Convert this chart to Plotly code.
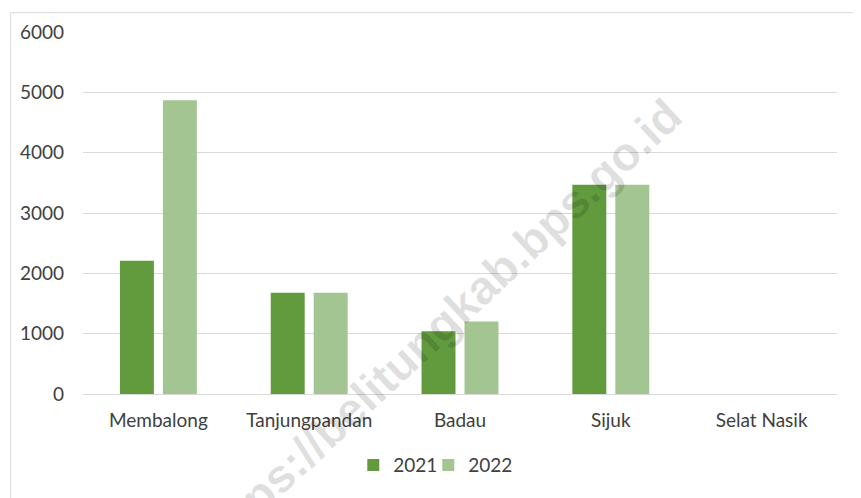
import plotly.graph_objects as go

# chart data
districts = ["Membalong", "Tanjungpandan", "Badau", "Sijuk", "Selat Nasik"]
values_2021 = [2210, 1680, 1040, 3470, 0]
values_2022 = [4870, 1680, 1200, 3470, 0]
y_ticks = [0, 1000, 2000, 3000, 4000, 5000, 6000]

TEXT = "#404040"
GRID = "#d9d9d9"
FONT = "Lato, 'Open Sans', sans-serif"

# page body adds 8px around the figure
W, H = 853, 490
ML, MR, MT, MB = 73, 24, 20, 104
PW, PH = W - ML - MR, H - MT - MB


def px_x(sx):
    return (sx - 8 - ML) / PW


def px_y(sy):
    return (H - MB - (sy - 8)) / PH


fig = go.Figure()
fig.add_trace(go.Bar(x=districts, y=values_2021, name="2021",
                     marker=dict(color="#629A3E", line=dict(width=0))))
fig.add_trace(go.Bar(x=districts, y=values_2022, name="2022",
                     marker=dict(color="#A3C592", line=dict(width=0))))
# blank legend slot so the last entry is not clipped (scatter, so it takes no bar slot)
fig.add_trace(go.Scatter(x=[None], y=[None], name=" ", mode="markers", hoverinfo="skip",
                         marker=dict(color="rgba(0,0,0,0)", size=1)))

fig.update_layout(
    width=W, height=H,
    margin=dict(l=ML, r=MR, t=MT, b=MB),
    paper_bgcolor="white", plot_bgcolor="white",
    font=dict(family=FONT, size=19, color=TEXT),
    barmode="group", bargap=0.43, bargroupgap=0.21,
    showlegend=True,
    legend=dict(orientation="h", x=px_x(352), xanchor="left", y=px_y(466), yanchor="middle",
                font=dict(size=19, color=TEXT), bgcolor="rgba(0,0,0,0)",
                entrywidth=30, entrywidthmode="pixels", itemclick=False),
    xaxis=dict(showgrid=False, showline=False, zeroline=False, ticks="",
               tickfont=dict(size=19, color=TEXT), ticklabelstandoff=13),
    yaxis=dict(range=[0, 6000], tickvals=y_ticks, showgrid=True, gridcolor=GRID,
               gridwidth=1, zeroline=True, zerolinecolor=GRID, zerolinewidth=1,
               showline=False, ticks="", ticklabelstandoff=18,
               tickfont=dict(size=19, color=TEXT)),
    shapes=[dict(type="rect", xref="paper", yref="paper",
                 x0=px_x(8.5), x1=px_x(900), y0=px_y(540), y1=px_y(8.5),
                 line=dict(color=GRID, width=1), fillcolor="rgba(0,0,0,0)",
                 layer="below")],
    annotations=[dict(text="<b>https://belitungkab.bps.go.id</b>", xref="paper", yref="paper",
                      x=px_x(438), y=px_y(326), xanchor="center", yanchor="middle",
                      showarrow=False, textangle=-43,
                      font=dict(family="Liberation Sans, Arial, sans-serif", size=47,
                                color="rgba(0,0,0,0.12)"))],
)

fig.write_html("out.html")
